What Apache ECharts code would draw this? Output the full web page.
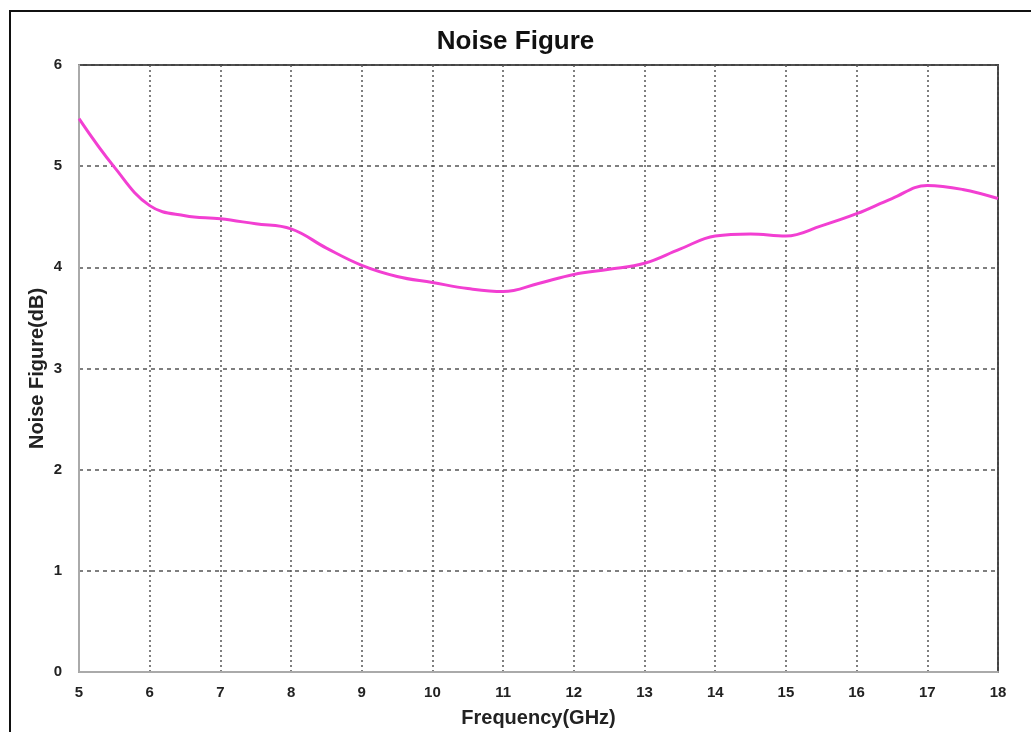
<!DOCTYPE html>
<html>
<head>
<meta charset="utf-8">
<title>Noise Figure</title>
<script src="https://cdn.jsdelivr.net/npm/echarts@6/dist/echarts.min.js"></script>
<style>
  html, body { margin: 0; padding: 0; background: #fff; }
  #myChart { width: 1031px; height: 732px; }
</style>
</head>
<body>
<div id="myChart"></div>
<script>
    // values
    var freqGHz = [5, 5.5, 6, 6.5, 7, 7.5, 8, 8.5, 9, 9.5, 10, 10.5, 11, 11.5, 12, 12.5, 13, 13.5, 14, 14.5, 15, 15.5, 16, 16.5, 17, 17.5, 18];
    var noiseDb = [5.47, 4.99, 4.61, 4.51, 4.48, 4.43, 4.38, 4.19, 4.02, 3.91, 3.85, 3.79, 3.76, 3.84, 3.93, 3.98, 4.04, 4.18, 4.31, 4.33, 4.31, 4.41, 4.53, 4.68, 4.81, 4.77, 4.68];

    var myChart;

    function getMyChart() {
        if (myChart != undefined) {
            return myChart;
        }
        myChart = echarts.init(document.getElementById('myChart'));
        return myChart;
    }

    function makeOptions() {
        var points = [];
        for (var i = 0; i < freqGHz.length; i++) {
            points.push([freqGHz[i], noiseDb[i]]);
        }
        var labelFont = {
            fontFamily: 'Liberation Sans',
            fontWeight: 'bold',
            fontSize: 15,
            color: '#222'
        };
        var nameFont = {
            fontFamily: 'Liberation Sans',
            fontWeight: 'bold',
            fontSize: 20,
            color: '#222'
        };
        var option = {
            animation: false,
            backgroundColor: '#fff',
            title: {
                text: 'Noise Figure',
                left: 'center',
                top: 24,
                textStyle: {
                    fontFamily: 'Liberation Sans',
                    fontWeight: 'bold',
                    fontSize: 26,
                    color: '#111'
                }
            },
            grid: {
                left: 79,
                top: 65,
                right: 33,
                bottom: 60,
                outerBoundsMode: 'none',
                show: true,
                borderColor: '#444',
                borderWidth: 2,
                backgroundColor: 'transparent'
            },
            xAxis: {
                type: 'value',
                min: 5,
                max: 18,
                interval: 1,
                name: 'Frequency(GHz)',
                nameLocation: 'middle',
                nameGap: 36,
                nameMoveOverlap: false,
                nameTextStyle: nameFont,
                axisLine: { lineStyle: { color: '#aaa', width: 2 } },
                axisTick: { show: false },
                axisLabel: Object.assign({ margin: 13 }, labelFont),
                splitLine: {
                    lineStyle: { color: '#555', width: 1.5, type: [2, 3] }
                }
            },
            yAxis: {
                type: 'value',
                min: 0,
                max: 6,
                interval: 1,
                name: 'Noise Figure(dB)',
                nameLocation: 'middle',
                nameGap: 32,
                nameMoveOverlap: false,
                nameTextStyle: nameFont,
                axisLine: { show: true, lineStyle: { color: '#aaa', width: 2 } },
                axisTick: { show: false },
                axisLabel: Object.assign({ margin: 17 }, labelFont),
                splitLine: {
                    lineStyle: { color: '#555', width: 1.5, type: [4, 4] }
                }
            },
            graphic: [
                {
                    type: 'rect',
                    shape: { x: 10, y: 11, width: 1100, height: 800 },
                    style: { fill: 'none', stroke: '#111', lineWidth: 2 },
                    silent: true
                }
            ],
            series: [
                {
                    type: 'line',
                    data: points,
                    smooth: 0.4,
                    showSymbol: false,
                    lineStyle: { color: '#f23fd2', width: 3 }
                }
            ]
        };
        return option;
    }

    getMyChart().setOption(makeOptions());
</script>
</body>
</html>
